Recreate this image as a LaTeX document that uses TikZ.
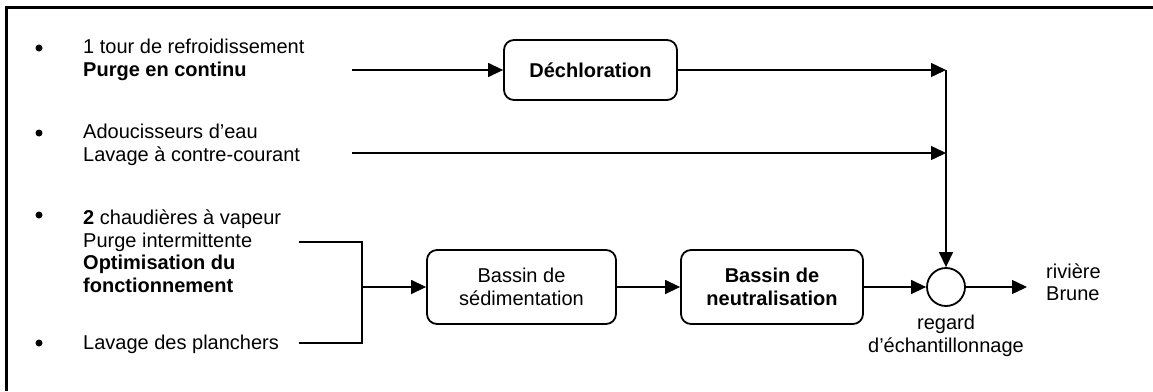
\documentclass[tikz,border=0pt]{standalone}
\usepackage{fontspec}
\setmainfont{Liberation Sans}
\usetikzlibrary{positioning,arrows.meta,calc}
\begin{document}
\begin{tikzpicture}[x=1pt,y=1pt,
	every node/.style={font=\fontsize{20}{22.5}\selectfont, inner sep=0pt},
	txt/.style={anchor=west, align=left},
	box/.style={draw, line width=1.8pt, rounded corners=10pt, align=center},
	flow/.style={line width=1.4pt, -{Triangle[length=15pt,width=14pt]}},
	rim/.style={line width=2.4pt}]
	\useasboundingbox (0,0) rectangle (1153,-391);
	\draw[rim] (6.5,-391) -- (6.5,-7.5) -- (1153,-7.5);
	\foreach \y in {48,133,215,343} \fill (39,-\y) circle (3.5);
	\node[txt] (tour) at (83,-60) {1 tour de refroidissement\\\textbf{Purge en continu}};
	\node[txt] (adouc) at (83,-145) {Adoucisseurs d'eau\\Lavage à contre-courant};
	\node[txt] (chaud) at (83,-251) {\textbf{2} chaudières à vapeur\\Purge intermittente\\\textbf{Optimisation du}\\\textbf{fonctionnement}};
	\node[txt] (plan) at (83,-344) {Lavage des planchers};
	\node[box, font=\fontsize{20}{22.5}\selectfont\bfseries, minimum width=173, minimum height=60] (dechl) at (590.5,-70) {Déchloration};
	\node[box, minimum width=189, minimum height=74] (sedim) at (521.5,-287) {Bassin de\\sédimentation};
	\node[box, font=\fontsize{20}{22.5}\selectfont\bfseries, minimum width=182, minimum height=74] (neutr) at (772,-287) {Bassin de\\neutralisation};
	\node[draw, circle, line width=1.8pt, minimum size=38] (regard) at (946,-287) {};
	\node[below=8pt of regard, align=center] (reglbl) {regard\\d'échantillonnage};
	\node[txt] (riv) at (1046,-282) {rivière\\Brune};
	\coordinate (s1) at (352,-70);
	\coordinate (s2) at (352,-153);
	\coordinate (b1) at (299,-242);
	\coordinate (b2) at (299,-343);
	\coordinate (bm) at (362,-287);
	\coordinate (out) at (1027,-287);
	\draw[flow] (s1) -- (dechl);
	\draw[flow] (dechl) -- (dechl -| regard);
	\draw[flow] (s2) -- (s2 -| regard);
	\draw[flow] (dechl -| regard) -- (regard);
	\draw[rim] (b1) -- (b1 -| bm) -- (b2 -| bm) -- (b2);
	\draw[flow] (bm) -- (sedim);
	\draw[flow] (sedim) -- (neutr);
	\draw[flow] (neutr) -- (regard);
	\draw[flow] (regard) -- (out);
\end{tikzpicture}
\end{document}
